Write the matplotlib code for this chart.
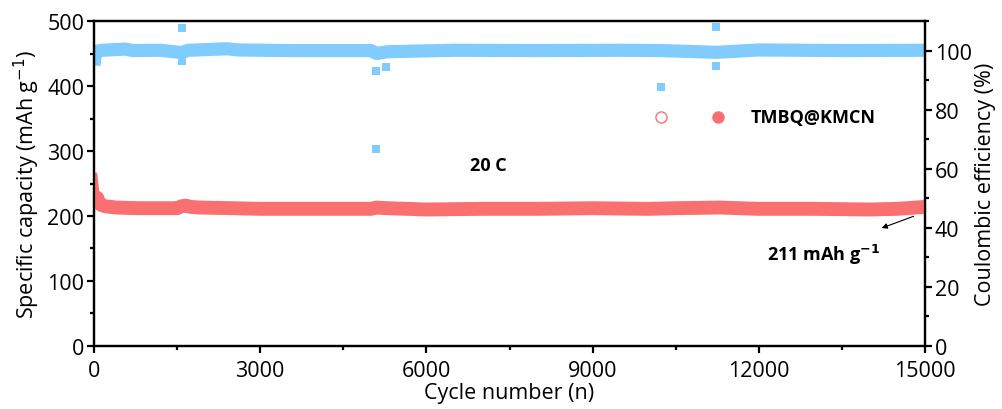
import numpy as np
import matplotlib.pyplot as plt
from matplotlib.ticker import MultipleLocator

plt.rcParams['font.family'] = ['Open Sans', 'DejaVu Sans']

# capacity band (cycle, mAh/g)
cap_cycle = [0, 15, 35, 60, 90, 130, 200, 400, 800, 1200, 1500, 1580, 1650, 1750, 1900,
             2500, 3000, 4000, 5000, 5100, 5300, 6000, 7000, 8000, 9000, 10000,
             10500, 11300, 12000, 13000, 14000, 14500, 15000]
cap_val = [266, 262, 245, 228, 220, 217, 215, 213, 212, 212, 212, 215, 216, 214, 213,
           212, 211, 211, 211, 213, 212, 210, 211, 211, 212, 211,
           212, 213, 211, 211, 210, 211, 214]

# coulombic efficiency band (cycle, %)
ce_cycle = [0, 20, 60, 150, 560, 700, 1200, 1583, 1700, 2400, 2600, 3500, 5000,
            5100, 5300, 6500, 8000, 9500, 10240, 11230, 12000, 13500, 15000]
ce_val = [95, 98.5, 99.8, 100.1, 100.5, 100.0, 100.1, 99.3, 100.1, 100.6, 100.2, 100.0, 100.0,
          99.0, 99.6, 100.1, 100.0, 100.1, 100.0, 99.4, 100.2, 100.0, 100.1]

# stray CE points
ce_out_cycle = [1583, 1583, 5090, 5090, 5270, 10240, 11230, 11230]
ce_out_val = [107.8, 96.5, 66.8, 93.2, 94.5, 87.8, 108.0, 94.8]

red = '#FA7070'
blue = '#80CCFF'
fs = 15.5

fig = plt.figure(figsize=(10.02, 4.10), dpi=100)
ax = fig.add_axes([0.0938, 0.1537, 0.8294, 0.7926])
ax2 = ax.twinx()

ax2.plot(ce_cycle, ce_val, color=blue, lw=9.5, solid_capstyle='butt', zorder=2)
ax2.plot(ce_out_cycle, ce_out_val, 's', color=blue, ms=6, mew=0, zorder=2)
ax2.set_ylim(0, 110)
ax2.yaxis.set_major_locator(MultipleLocator(20))
ax2.yaxis.set_minor_locator(MultipleLocator(10))
ax2.set_ylabel('Coulombic efficiency (%)', fontsize=fs, labelpad=2)

ax.set_zorder(ax2.get_zorder() + 1)
ax.patch.set_visible(False)
ax.plot(cap_cycle[:5], cap_val[:5], color=red, lw=4, solid_capstyle='butt')
ax.plot(cap_cycle[3:], cap_val[3:], color=red, lw=10, solid_capstyle='round')
ax.set_xlim(0, 15000)
ax.set_ylim(0, 500)
ax.xaxis.set_major_locator(MultipleLocator(3000))
ax.xaxis.set_minor_locator(MultipleLocator(1500))
ax.yaxis.set_major_locator(MultipleLocator(100))
ax.yaxis.set_minor_locator(MultipleLocator(50))
ax.set_xlabel('Cycle number (n)', fontsize=fs, labelpad=1)
ax.set_ylabel('Specific capacity (mAh g$^{-1}$)', fontsize=fs, labelpad=4)

for a in (ax, ax2):
    for s in a.spines.values():
        s.set_linewidth(1.6)
    a.tick_params(which='major', length=5, width=1.6, labelsize=fs, direction='out', pad=2)
    a.tick_params(which='minor', length=3, width=1.6, direction='out')
ax.tick_params(axis='x', which='major', pad=5)

ax.text(6780, 278, '20 C', fontsize=13, fontweight='bold', va='center')
ax.annotate('', xy=(14170, 180), xytext=(14840, 201),
            arrowprops=dict(arrowstyle='-|>', color='black', lw=0.8, mutation_scale=8))
ax.text(12150, 141, '211 mAh g$^{\\mathbf{-1}}$', fontsize=13, fontweight='bold', va='center')

# legend
ax.plot([0.682], [0.705], 'o', transform=ax.transAxes, ms=8, mfc='white', mec=red, mew=1,
        clip_on=False)
ax.plot([0.751], [0.705], 'o', transform=ax.transAxes, ms=8, color=red, clip_on=False)
ax.text(0.790, 0.705, 'TMBQ@KMCN', transform=ax.transAxes, fontsize=13, fontweight='bold',
        va='center')

fig.savefig('out.png', dpi=100)
